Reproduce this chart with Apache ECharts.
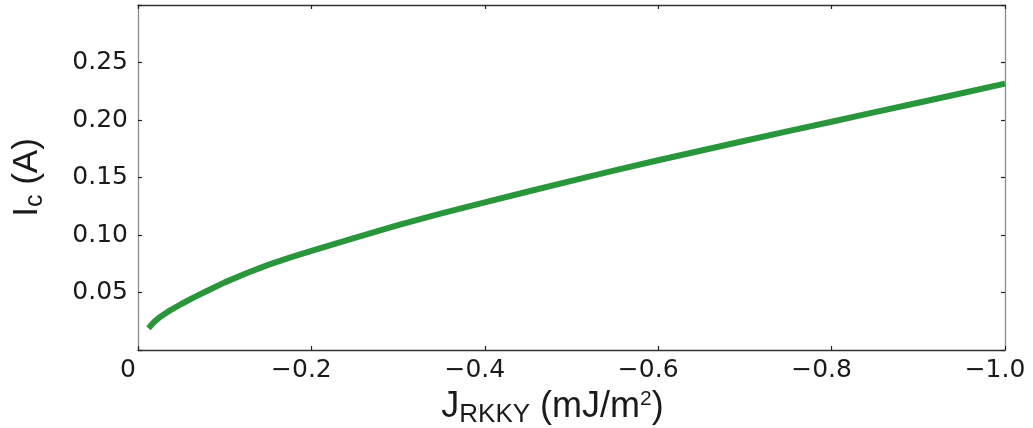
<!DOCTYPE html>
<html>
<head>
<meta charset="utf-8">
<script src="https://cdn.jsdelivr.net/npm/echarts@6/dist/echarts.min.js"></script>
<style>
    html, body { margin: 0; padding: 0; background: #fff; }
    #ic_chart { width: 1033px; height: 428px; }
</style>
</head>
<body>
<div id="ic_chart"></div>
<script>
    // J_RKKY (mJ/m^2) and critical current Ic (A)
    const jValues = [-0.012, -0.018, -0.025, -0.035, -0.05, -0.065, -0.08, -0.1, -0.125, -0.15, -0.175,
        -0.2, -0.25, -0.3, -0.35, -0.4, -0.45, -0.5, -0.55, -0.6, -0.65, -0.7, -0.75, -0.8,
        -0.85, -0.9, -0.95, -1.0];
    const icValues = [0.019, 0.024, 0.0285, 0.0335, 0.0400, 0.0460, 0.0515, 0.0588, 0.0668, 0.0740, 0.0804,
        0.0862, 0.0975, 0.1086, 0.1188, 0.1283, 0.1378, 0.1470, 0.1562, 0.1650, 0.1735, 0.1820, 0.1903, 0.1985,
        0.2068, 0.2150, 0.2233, 0.2316];
    const yTicks = [0.05, 0.10, 0.15, 0.20, 0.25];

    const lineColor = '#2a963c';
    const tickFont = 'DejaVu Sans';
    const titleFont = 'Liberation Sans';

    const chart = echarts.init(document.getElementById('ic_chart'));

    const xLabel = (v) => {
        if (Math.abs(v) < 1e-9) return '0';
        return '\u2212' + Math.abs(v).toFixed(1);
    };
    const yLabel = (v) => {
        const hit = yTicks.some(t => Math.abs(t - v) < 1e-9);
        return hit ? v.toFixed(2) : '';
    };

    const tickStyle = { show: true, inside: true, length: 4, lineStyle: { color: '#222', width: 1.2 } };
    const darkLine = { onZero: false, lineStyle: { color: '#333', width: 1.3 } };
    const greyLine = { onZero: false, lineStyle: { color: '#8c8c8c', width: 1.3 } };

    const option = {
        animation: false,
        grid: { left: 138, right: 28, top: 5, bottom: 78, outerBoundsMode: 'none', containLabel: false },
        xAxis: [
            {
                type: 'value',
                min: -1.0,
                max: 0,
                interval: 0.2,
                inverse: true,
                position: 'bottom',
                splitLine: { show: false },
                axisLine: darkLine,
                axisTick: tickStyle,
                axisLabel: {
                    formatter: xLabel,
                    fontFamily: tickFont,
                    fontSize: 25,
                    color: '#1a1a1a',
                    margin: 8,
                    padding: [0, 20, 0, 0]
                },
                name: '{a|J}{sub|RKKY}{a| (mJ/m}{sup|2}{a|)}',
                nameLocation: 'middle',
                nameGap: 36,
                nameTextStyle: {
                    fontFamily: titleFont,
                    color: '#1a1a1a',
                    padding: [0, 38, 0, 0],
                    rich: {
                        a: { fontFamily: titleFont, fontSize: 36, color: '#1a1a1a' },
                        sub: { fontFamily: titleFont, fontSize: 26, color: '#1a1a1a', padding: [16, 0, 0, 0] },
                        sup: { fontFamily: titleFont, fontSize: 21, color: '#1a1a1a', padding: [0, 0, 16, 0] }
                    }
                }
            },
            {
                type: 'value',
                min: -1.0,
                max: 0,
                interval: 0.2,
                inverse: true,
                position: 'top',
                splitLine: { show: false },
                axisLine: darkLine,
                axisTick: tickStyle,
                axisLabel: { show: false }
            }
        ],
        yAxis: [
            {
                type: 'value',
                min: 0,
                max: 0.3,
                interval: 0.05,
                position: 'left',
                splitLine: { show: false },
                axisLine: greyLine,
                axisTick: tickStyle,
                axisLabel: {
                    formatter: yLabel,
                    fontFamily: tickFont,
                    fontSize: 25,
                    color: '#1a1a1a',
                    margin: 10
                },
                name: '{a|I}{sub|c}{a| (A)}',
                nameLocation: 'middle',
                nameGap: 90,
                nameTextStyle: {
                    fontFamily: titleFont,
                    color: '#1a1a1a',
                    rich: {
                        a: { fontFamily: titleFont, fontSize: 35, color: '#1a1a1a' },
                        sub: { fontFamily: titleFont, fontSize: 25, color: '#1a1a1a', padding: [16, 0, 0, 0] }
                    }
                }
            },
            {
                type: 'value',
                min: 0,
                max: 0.3,
                interval: 0.05,
                position: 'right',
                splitLine: { show: false },
                axisLine: greyLine,
                axisTick: tickStyle,
                axisLabel: { show: false }
            }
        ],
        series: [
            {
                type: 'line',
                xAxisIndex: 0,
                yAxisIndex: 0,
                data: jValues.map((j, i) => [j, icValues[i]]),
                showSymbol: false,
                smooth: false,
                clip: true,
                lineStyle: { color: lineColor, width: 6, join: 'round' }
            }
        ]
    };

    chart.setOption(option, true);
</script>
</body>
</html>
